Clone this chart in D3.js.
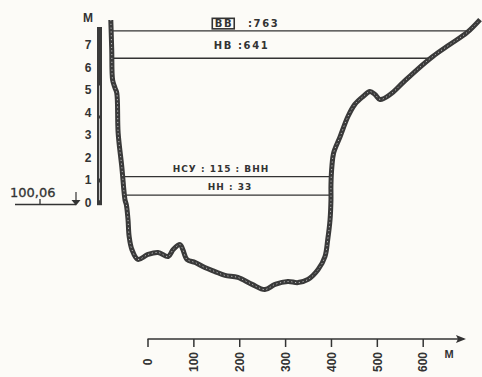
<!DOCTYPE html>
<html><head><meta charset="utf-8">
<script src="https://cdn.jsdelivr.net/npm/d3@7"></script>
<style>html,body{margin:0;padding:0;background:#fcfbf7;} svg{display:block}</style>
</head><body><svg id="c" width="482" height="377"></svg>
<script>
// ---- data ----
const xTicks = [0, 100, 200, 300, 400, 500, 600];
const yTicks = [0, 1, 2, 3, 4, 5, 6, 7];
const unitLabel = "М";
const datumLabel = "100,06";
const levelCodes = ["ВВ", "НВ", "НСУ", "НН"];
const levelValues = [763, 641, 115, 33];      // cm above datum
const levelSuffix = ["", "", " : ВНН", ""];
// cross-section profile: distance (m), elevation (m)
const profileDist = [-80, -78, -76, -71, -67, -64, -56, -49, -46, -42.5, -40, -34, -21, 1, 23, 45, 56, 71, 77, 86, 104, 125, 147, 169, 197, 228, 256, 278, 306, 328, 350, 372, 387, 393, 398, 400, 400, 402, 406, 420, 437, 452, 470, 485, 496, 507, 529, 557, 588, 622, 659, 697, 725];
const profileElev = [8.11, 6.8, 5.44, 5.1, 4.87, 3.09, 1.58, 0.11, -0.11, -0.76, -1.51, -2.09, -2.53, -2.31, -2.22, -2.4, -2.09, -1.87, -2.09, -2.53, -2.67, -2.89, -3.07, -3.24, -3.33, -3.64, -3.87, -3.64, -3.51, -3.56, -3.42, -2.98, -2.4, -1.64, -0.76, 0.13, 0.8, 1.6, 2.22, 2.93, 3.82, 4.36, 4.71, 4.93, 4.8, 4.58, 4.8, 5.33, 5.91, 6.49, 7.02, 7.56, 8.13];

// ---- drawing ----
const ink = "#333";
const svg = d3.select("#c");
const x = d3.scaleLinear().domain([0, 600]).range([147.5, 422.7]);
const y = d3.scaleLinear().domain([0, 8]).range([202.5, 22.5]);
const profile = profileDist.map((d, i) => ({d, h: profileElev[i]}));

// level lines (from bank to bank)
function crossings(h) {
  const xs = [];
  for (let i = 0; i < profile.length - 1; i++) {
    const a = profile[i], b = profile[i + 1];
    if ((h - a.h) * (h - b.h) <= 0 && a.h !== b.h) {
      xs.push(a.d + (h - a.h) / (b.h - a.h) * (b.d - a.d));
    }
  }
  return [xs[0], xs[xs.length - 1]];
}
const labelCx = [243, 241.5, 221, 230];
const labelOff = [4, 9, 5, 5];
const labelSize = [10, 10, 9, 9];
const labelSpacing = [1.6, 1.6, 1, 1];
levelValues.forEach((v, i) => {
  const h = v / 100;
  const [d0, d1] = crossings(h);
  svg.append("line").attr("x1", x(d0)).attr("x2", x(d1))
    .attr("y1", y(h)).attr("y2", y(h))
    .attr("stroke", ink).attr("stroke-width", 1.4);
  const ty = y(h) - labelOff[i];
  const style = t => t.attr("font-family", "DejaVu Sans").attr("font-weight", "bold")
    .attr("font-size", labelSize[i]).attr("letter-spacing", labelSpacing[i]).attr("fill", ink);
  if (i === 0) {
    const code = svg.append("text").attr("x", labelCx[i] - 19).attr("y", ty)
      .attr("text-anchor", "middle").text(levelCodes[i]).call(style);
    const bb = code.node().getBBox();
    svg.append("rect").attr("x", bb.x - 2.5).attr("y", bb.y + 0.5)
      .attr("width", bb.width + 3.5).attr("height", bb.height - 0.5)
      .attr("fill", "none").attr("stroke", ink).attr("stroke-width", 1.6);
    svg.append("text").attr("x", labelCx[i] + 5).attr("y", ty)
      .text(":" + v).call(style);
  } else {
    const sep = i === 1 ? " :" : " : ";
    svg.append("text").attr("x", labelCx[i]).attr("y", ty)
      .attr("text-anchor", "middle")
      .text(levelCodes[i] + sep + v + levelSuffix[i]).call(style);
  }
});

// profile (hatched bank line)
const line = d3.line().x(p => x(p.d)).y(p => y(p.h)).curve(d3.curveCatmullRom.alpha(0.5));
svg.append("path").datum(profile).attr("d", line)
  .attr("fill", "none").attr("stroke", "#3a3a3a").attr("stroke-width", 5)
  .attr("stroke-linejoin", "round");
svg.append("path").datum(profile).attr("d", line)
  .attr("fill", "none").attr("stroke", "#bdbdbd").attr("stroke-width", 1)
  .attr("stroke-dasharray", "1.2,2.6");

// y axis (thick gauge bar)
const yAx = svg.append("g").attr("transform", "translate(99.5,0)")
  .call(d3.axisLeft(y).tickValues(yTicks).tickSize(0).tickPadding(8).tickFormat(d3.format("d")));
yAx.select(".domain").remove();
yAx.selectAll("text").attr("font-family", "Liberation Sans").attr("font-weight", "bold")
  .attr("font-size", 12).attr("fill", ink).attr("text-anchor", "middle").attr("dx", -3.5);
svg.append("rect").attr("x", 97).attr("y", y(7.8)).attr("width", 5)
  .attr("height", y(-0.12) - y(7.8)).attr("fill", "#3a3a3a");
svg.append("line").attr("x1", 99.5).attr("x2", 99.5).attr("y1", y(5.2)).attr("y2", y(0.1))
  .attr("stroke", "#e8e8e8").attr("stroke-width", 0.8).attr("stroke-dasharray", "30,3,60,4");
svg.append("text").attr("x", 88).attr("y", 22).attr("text-anchor", "middle")
  .attr("font-family", "Liberation Sans").attr("font-weight", "bold").attr("font-size", 12)
  .attr("fill", ink).text(unitLabel);

// datum label
svg.append("text").attr("x", 10).attr("y", 197).attr("font-family", "DejaVu Sans")
  .attr("font-size", 13).attr("fill", ink).attr("stroke", ink).attr("stroke-width", 0.3)
  .text(datumLabel);
svg.append("path").attr("d", "M15,204.5H76M40,204.5V199")
  .attr("stroke", ink).attr("stroke-width", 1.3).attr("fill", "none");
svg.append("path").attr("d", "M76,192V200").attr("stroke", ink).attr("stroke-width", 1.2);
svg.append("path").attr("d", "M71.5,200H80.5L76,205.5Z").attr("fill", ink);

// x axis
const xAx = svg.append("g").attr("transform", "translate(0,339)")
  .call(d3.axisBottom(x).tickValues(xTicks).tickSize(8).tickSizeOuter(0));
xAx.select(".domain").attr("d", `M${x(0)},0H${x(690)}`).attr("stroke", ink).attr("stroke-width", 1.6);
xAx.selectAll(".tick line").attr("stroke", ink).attr("stroke-width", 1.5);
xAx.selectAll("text").attr("font-family", "Liberation Sans").attr("font-weight", "bold")
  .attr("font-size", 12).attr("fill", ink)
  .attr("transform", "translate(0,23) rotate(-90)").attr("y", 0).attr("dy", "0.35em")
  .attr("text-anchor", "middle");
svg.append("path").attr("d", `M${x(690) + 2},339L${x(690) - 8},335L${x(690) - 6},339L${x(690) - 8},343Z`)
  .attr("fill", ink);
svg.append("text").attr("x", 449).attr("y", 358).attr("text-anchor", "middle")
  .attr("font-family", "Liberation Sans").attr("font-weight", "bold").attr("font-size", 11)
  .attr("fill", ink).text(unitLabel);
</script></body></html>
